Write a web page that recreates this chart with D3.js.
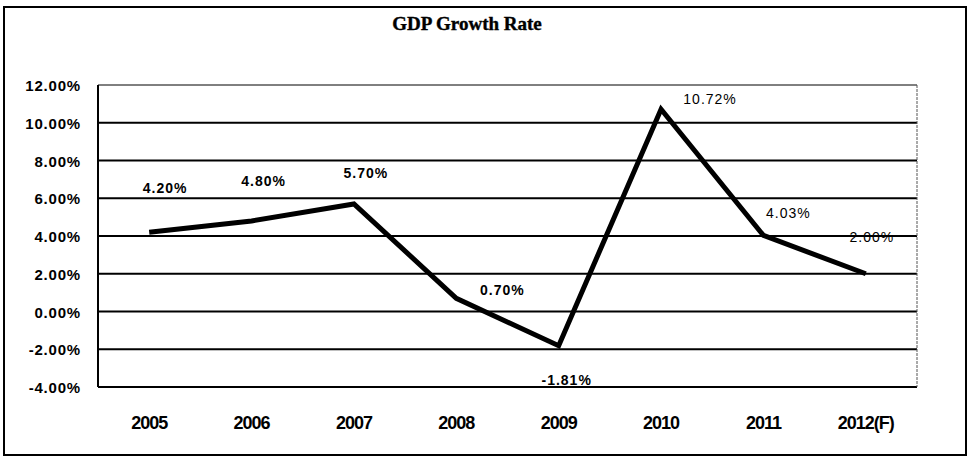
<!DOCTYPE html>
<html>
<head>
<meta charset="utf-8">
<script src="https://cdn.jsdelivr.net/npm/d3@7/dist/d3.min.js"></script>
<style>
  html, body { margin: 0; padding: 0; background: #fff; }
  svg { display: block; }
</style>
</head>
<body>
<svg id="chart" width="969" height="460"></svg>
<script>
// GDP growth, annual percent
const years = ["2005", "2006", "2007", "2008", "2009", "2010", "2011", "2012(F)"];
const growth = [4.20, 4.80, 5.70, 0.70, -1.81, 10.72, 4.03, 2.00];
const yTicks = [-4, -2, 0, 2, 4, 6, 8, 10, 12];

// nudges for the value labels, relative to each point (px)
const labelDx = [16, 12, 12, 46, 8, 49, 25, 6];
const labelDy = [-39, -35, -26, -3, 39, -5, -17, -32];
const labelWeight = ["bold", "bold", "bold", "bold", "bold", "normal", "normal", "normal"];

// percent formatter using a plain hyphen for negatives
const locale = d3.formatLocale({ decimal: ".", thousands: ",", grouping: [3], currency: ["", ""], minus: "-" });
const pct = d => locale.format(".2f")(d) + "%";

const svg = d3.select("#chart");
const plot = { left: 98, right: 917, top: 85, bottom: 387 };

// outer frame
svg.append("rect")
  .attr("x", 4).attr("y", 7)
  .attr("width", 962).attr("height", 448)
  .attr("fill", "none").attr("stroke", "#000").attr("stroke-width", 2);

// title
svg.append("text")
  .attr("x", 467).attr("y", 30)
  .attr("text-anchor", "middle")
  .attr("font-family", "'Liberation Serif', 'Times New Roman', serif")
  .attr("font-weight", "bold")
  .attr("font-size", 19)
  .attr("stroke", "#000").attr("stroke-width", 0.4)
  .text("GDP Growth Rate");

const x = d3.scaleBand().domain(years).range([plot.left, plot.right]);
const y = d3.scaleLinear().domain([-4, 12]).range([plot.bottom, plot.top]);

// gridlines
svg.append("g").selectAll("line")
  .data(yTicks)
  .join("line")
  .attr("x1", plot.left).attr("x2", plot.right)
  .attr("y1", d => y(d)).attr("y2", d => y(d))
  .attr("stroke", "#000")
  .attr("stroke-width", d => d === 12 ? 1 : 2);

// plot frame sides
svg.append("line")
  .attr("x1", plot.left).attr("x2", plot.left)
  .attr("y1", y(12)).attr("y2", y(-4))
  .attr("stroke", "#000").attr("stroke-width", 2);
svg.append("line")
  .attr("x1", plot.right).attr("x2", plot.right)
  .attr("y1", y(12)).attr("y2", y(-4))
  .attr("stroke", "#555").attr("stroke-width", 1)
  .attr("stroke-dasharray", "3,1");

// y axis labels
const yAxis = d3.axisLeft(y)
  .tickValues(yTicks)
  .tickSize(0)
  .tickPadding(17)
  .tickFormat(pct);
const gy = svg.append("g")
  .attr("transform", `translate(${plot.left},0)`)
  .call(yAxis);
gy.select(".domain").remove();
gy.selectAll("text")
  .attr("font-family", "'Liberation Sans', Arial, sans-serif")
  .attr("font-weight", "bold")
  .attr("font-size", 15)
  .attr("letter-spacing", "0.8px")
  .attr("fill", "#000")
  .attr("dy", "0.38em");

// x axis labels
const xAxis = d3.axisBottom(x).tickSize(0).tickPadding(29);
const gx = svg.append("g")
  .attr("transform", `translate(0,${plot.bottom})`)
  .call(xAxis);
gx.select(".domain").remove();
gx.selectAll("text")
  .attr("font-family", "'Liberation Sans', Arial, sans-serif")
  .attr("font-weight", "bold")
  .attr("font-size", 18)
  .attr("letter-spacing", "-1px")
  .attr("fill", "#000");

// growth line
const cx = d => x(d) + x.bandwidth() / 2;
const line = d3.line()
  .x((d, i) => cx(years[i]))
  .y(d => y(d));
svg.append("path")
  .datum(growth)
  .attr("d", line)
  .attr("fill", "none")
  .attr("stroke", "#000")
  .attr("stroke-width", 5)
  .attr("stroke-linejoin", "miter");

// value labels
svg.append("g").selectAll("text")
  .data(growth)
  .join("text")
  .attr("x", (d, i) => cx(years[i]) + labelDx[i])
  .attr("y", (d, i) => y(d) + labelDy[i])
  .attr("text-anchor", "middle")
  .attr("font-family", "'Liberation Sans', Arial, sans-serif")
  .attr("font-weight", (d, i) => labelWeight[i])
  .attr("font-size", 14)
  .attr("letter-spacing", "1px")
  .text(pct);
</script>
</body>
</html>
